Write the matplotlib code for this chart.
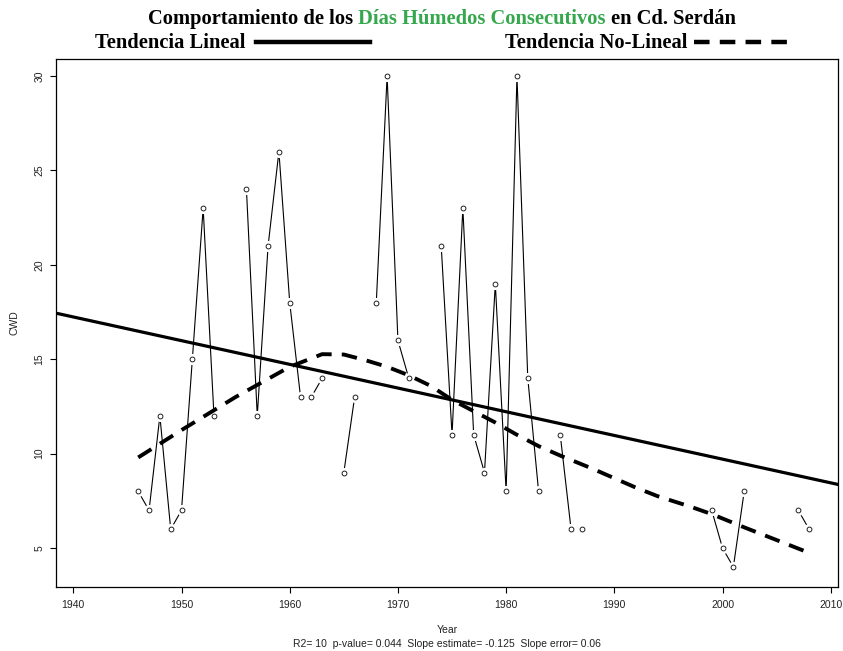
import numpy as np
import matplotlib.pyplot as plt
from matplotlib.lines import Line2D

nan = np.nan

# yearly consecutive wet days (CWD), Cd. Serdan; nan = missing year
years = np.arange(1946, 2009)
cwd = [8, 7, 12, 6, 7, 15, 23, 12, nan, nan,
       24, 12, 21, 26, 18, 13, 13, 14, nan, 9,
       13, nan, 18, 30, 16, 14, nan, nan, 21, 11,
       23, 11, 9, 19, 8, 30, 14, 8, nan, 11,
       6, 6, nan, nan, nan, nan, nan, nan, nan, nan,
       nan, nan, nan, 7, 5, 4, 8, nan, nan, nan,
       nan, 7, 6]

# linear trend (value at 1940 and slope per year)
lin_at_1940 = 17.24
lin_slope = -0.1255

# non-linear (loess) trend
smooth_years = [1946, 1950, 1955, 1960, 1963, 1965, 1967, 1969, 1971, 1973, 1975,
                1977, 1979, 1981, 1983, 1985, 1988, 1990, 1992, 1994, 1997, 1999,
                2002, 2004, 2008]
smooth_cwd = [9.8, 11.25, 13.0, 14.6, 15.27, 15.25, 14.95, 14.6, 14.15, 13.6, 12.85,
              12.25, 11.65, 11.0, 10.4, 9.9, 9.2, 8.7, 8.2, 7.75, 7.2, 6.8,
              6.1, 5.65, 4.75]

xticks = [1940, 1950, 1960, 1970, 1980, 1990, 2000, 2010]
yticks = [5, 10, 15, 20, 25, 30]
subtitle = "R2= 10  p-value= 0.044  Slope estimate= -0.125  Slope error= 0.06"

W, H = 843, 651
fig = plt.figure(figsize=(W / 100, H / 100), dpi=100)
ax = fig.add_axes([56 / W, 1 - 587 / H, (838 - 56) / W, (587 - 59) / H])

# series with R-style "b" gaps around the points
ax.plot(years, cwd, color='black', lw=0.8, zorder=1)
ax.plot(years, cwd, 'o', ms=8, mfc='white', mec='none', zorder=2)
ax.plot(years, cwd, 'o', ms=3.5, mfc='white', mec='black', mew=0.6, zorder=3)

ax.axline((1940, lin_at_1940), slope=lin_slope, color='black', lw=2.3, zorder=4)
ax.plot(smooth_years, smooth_cwd, color='black', lw=2.8, dashes=(4, 2.6), zorder=4)

ax.set_xlim(1938.4, 2010.67)
ax.set_ylim(2.94, 30.9)
ax.set_xticks(xticks)
ax.set_yticks(yticks)
ax.tick_params(direction='out', length=4.3, width=0.8, labelsize=7.5, pad=5,
               labelcolor='#222222')
ax.tick_params(axis='y', pad=4)
plt.setp(ax.get_yticklabels(), rotation=90, va='center')
for s in ax.spines.values():
    s.set_linewidth(0.9)
for lab in ax.get_xticklabels() + ax.get_yticklabels():
    lab.set_fontfamily('Liberation Sans')

fig.text(447 / W, 1 - 630 / H, 'Year', ha='center', va='center', fontsize=7.5,
         family='Liberation Sans', color='#222222')
fig.text(447 / W, 1 - 644 / H, subtitle, ha='center', va='center', fontsize=7.5,
         family='Liberation Sans', color='#222222')
fig.text(15 / W, 1 - 323 / H, 'CWD', ha='center', va='center', rotation=90,
         fontsize=7.5, family='Liberation Sans', color='#222222')

# title with a coloured middle part
rend = fig.canvas.get_renderer()
tkw = dict(fontsize=14.8, family='Liberation Serif', fontweight='bold', va='baseline')


def width(s):
    t = fig.text(0, 0, s, **tkw)
    w = t.get_window_extent(rend).width
    t.remove()
    return w


space = width('x x') - width('xx')
pieces = [('Comportamiento de los', 'black'),
          ('Días Húmedos Consecutivos', '#35a84e'),
          ('en Cd. Serdán', 'black')]
ws = [width(p) for p, c in pieces]
x = 442 - (sum(ws) + space * 2) / 2
for (p, c), w in zip(pieces, ws):
    fig.text(x / W, 1 - 24 / H, p, color=c, **tkw)
    x += w + space

fig.text(95 / W, 1 - 48 / H, 'Tendencia Lineal', **tkw)
fig.text(505 / W, 1 - 48 / H, 'Tendencia No-Lineal', **tkw)
fig.add_artist(Line2D([256 / W, 370 / W], [1 - 42 / H] * 2, transform=fig.transFigure,
                      color='black', lw=3.2))
fig.add_artist(Line2D([694 / W, 790 / W], [1 - 42 / H] * 2, transform=fig.transFigure,
                      color='black', lw=3.2, dashes=(3.5, 2.3)))

fig.savefig('out.png', dpi=100)
